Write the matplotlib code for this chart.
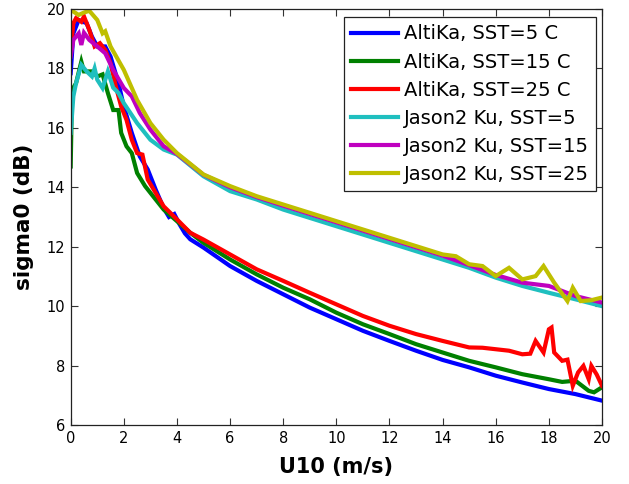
import matplotlib
matplotlib.use("Agg")
import matplotlib.pyplot as plt

# ---- data ----
u_blue = [0, 0.1, 0.3, 0.6, 0.8, 1.0, 1.3, 1.5, 1.8, 2.0, 2.3, 2.6, 2.9, 3.2, 3.5, 3.7, 3.9, 4.1, 4.3, 4.5,
          5, 6, 7, 8, 9, 10, 11, 12, 13, 14, 15, 16, 17, 18, 19, 20]
s_blue = [17.84, 19.18, 19.63, 19.52, 19.07, 18.74, 18.74, 18.4, 17.5, 16.72, 15.83, 15.04, 14.6, 13.92, 13.3,
          13.0, 13.1, 12.75, 12.45, 12.25, 11.97, 11.35, 10.85, 10.4, 9.95, 9.56, 9.17, 8.83, 8.5, 8.19,
          7.94, 7.66, 7.43, 7.21, 7.04, 6.82]

u_green = [0, 0.05, 0.2, 0.4, 0.5, 0.8, 1.0, 1.2, 1.4, 1.6, 1.8, 1.9, 2.1, 2.3, 2.5, 2.8, 3.1, 3.5, 4.0, 4.5,
           5, 6, 7, 8, 9, 10, 11, 12, 13, 14, 15, 16, 17, 18, 18.5, 19, 19.5, 19.7, 20]
s_green = [14.7, 17.28, 17.5, 18.23, 17.9, 17.9, 17.73, 17.8, 17.17, 16.6, 16.6, 15.83, 15.38, 15.15, 14.48,
           14.04, 13.7, 13.25, 12.86, 12.47, 12.13, 11.57, 11.07, 10.62, 10.23, 9.78, 9.39, 9.06, 8.72, 8.44,
           8.16, 7.94, 7.71, 7.54, 7.45, 7.49, 7.15, 7.1, 7.27]

u_red = [0, 0.1, 0.2, 0.4, 0.5, 0.7, 0.9, 1.1, 1.3, 1.5, 1.7, 1.9, 2.1, 2.3, 2.5, 2.7, 2.9, 3.2, 3.5, 4.0, 4.5,
         5, 6, 7, 8, 9, 10, 11, 12, 13, 14, 14.5, 15, 15.5, 16, 16.5, 17, 17.3, 17.5, 17.8, 18.0, 18.1, 18.2,
         18.5, 18.7, 18.9, 19.1, 19.3, 19.5, 19.6, 19.8, 20]
s_red = [18.6, 19.52, 19.69, 19.57, 19.75, 19.3, 18.74, 18.85, 18.62, 18.17, 17.39, 16.72, 16.27, 15.6, 15.15,
         15.1, 14.26, 13.81, 13.36, 12.92, 12.47, 12.24, 11.74, 11.24, 10.85, 10.45, 10.06, 9.67, 9.34, 9.06,
         8.83, 8.72, 8.61, 8.6, 8.55, 8.5, 8.38, 8.4, 8.83, 8.44, 9.22, 9.28, 8.44, 8.16, 8.2, 7.32, 7.77,
         7.99, 7.54, 7.99, 7.7, 7.32]

u_cyan = [0, 0.1, 0.2, 0.4, 0.6, 0.8, 0.9, 1.0, 1.2, 1.4, 1.6, 1.8, 2.0, 2.5, 3.0, 3.5, 4,
          5, 6, 7, 8, 9, 10, 11, 12, 13, 14, 15, 16, 17, 18, 19, 20]
s_cyan = [15.83, 17.06, 17.5, 18.12, 17.9, 17.73, 18.0, 17.62, 17.34, 17.9, 17.35, 17.17, 16.83, 16.16, 15.6,
          15.27, 15.1, 14.37, 13.87, 13.59, 13.25, 12.97, 12.69, 12.41, 12.13, 11.85, 11.57, 11.29, 10.96,
          10.68, 10.45, 10.23, 10.0]

u_mag = [0, 0.1, 0.3, 0.4, 0.5, 0.7, 1.0, 1.3, 1.6, 2.0, 2.3, 2.6, 3.0, 3.5, 4,
         5, 6, 7, 8, 9, 10, 11, 12, 13, 14, 15, 16, 17, 18, 19, 20]
s_mag = [18.4, 18.96, 19.18, 18.79, 19.2, 18.96, 18.74, 18.51, 17.95, 17.34, 17.06, 16.5, 15.94, 15.38, 15.12,
         14.42, 14.0, 13.67, 13.38, 13.1, 12.82, 12.54, 12.26, 11.98, 11.7, 11.38, 11.05, 10.79, 10.68,
         10.34, 10.12]

u_yel = [0, 0.3, 0.5, 0.7, 1.0, 1.2, 1.3, 1.5, 2.0, 2.5, 3.0, 3.5, 4,
         5, 6, 7, 8, 9, 10, 11, 12, 13, 14, 14.5, 15, 15.5, 16, 16.5, 17, 17.5, 17.8, 18.2, 18.7,
         18.9, 19.2, 19.6, 20]
s_yel = [19.97, 19.8, 19.88, 19.94, 19.63, 19.18, 19.25, 18.74, 17.95, 16.94, 16.16, 15.6, 15.15,
         14.43, 14.04, 13.7, 13.42, 13.14, 12.86, 12.58, 12.3, 12.02, 11.74, 11.68, 11.41, 11.35, 11.01,
         11.29, 10.9, 11.01, 11.35, 10.79, 10.17, 10.62, 10.17, 10.2, 10.29]

labels = ["AltiKa, SST=5 C", "AltiKa, SST=15 C", "AltiKa, SST=25 C",
          "Jason2 Ku, SST=5", "Jason2 Ku, SST=15", "Jason2 Ku, SST=25"]
colors = ["#0000ff", "#008000", "#ff0000", "#1fbfbf", "#bf00bf", "#bfbf00"]
xticks = list(range(0, 21, 2))
yticks = list(range(6, 21, 2))

plt.rcParams['font.family'] = ['DejaVu Sans']

fig = plt.figure(figsize=(6.29, 4.84), dpi=100)
W, H = 629, 484
ax = fig.add_axes([70.7 / W, 1 - 425 / H, (602 - 70.7) / W, (425 - 9) / H])

series = [(u_blue, s_blue), (u_green, s_green), (u_red, s_red),
          (u_cyan, s_cyan), (u_mag, s_mag), (u_yel, s_yel)]
for (u, s), c, lab in zip(series, colors, labels):
    ax.plot(u, s, color=c, lw=3, label=lab, solid_joinstyle='miter')

ax.set_xlim(0, 20)
ax.set_ylim(6, 20)
ax.set_xticks(xticks)
ax.set_yticks(yticks)
ax.tick_params(direction='in', top=True, right=True, length=5, width=0.8,
               labelsize=10.5, color='#333333', pad=4)
for sp in ax.spines.values():
    sp.set_linewidth(0.9)
    sp.set_color('#222222')

ax.set_xlabel("U10 (m/s)", fontsize=15, fontweight='bold', labelpad=8)
ax.set_ylabel("sigma0 (dB)", fontsize=15.5, fontweight='bold', labelpad=9)

leg = ax.legend(loc='upper right', bbox_to_anchor=(596 / W, 1 - 17 / H),
                bbox_transform=fig.transFigure, borderaxespad=0, fontsize=14,
                fancybox=False, framealpha=1, edgecolor='#222222',
                handlelength=2.4, handletextpad=0.3, labelspacing=0.47,
                borderpad=0.38)
leg.get_frame().set_linewidth(0.9)

fig.savefig("out.png", dpi=100)
